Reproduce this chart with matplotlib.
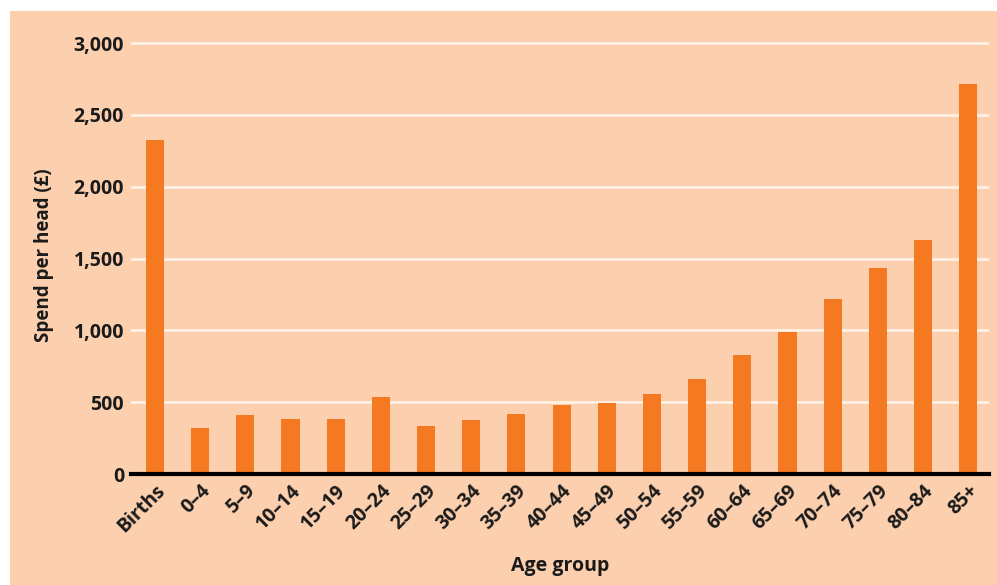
import matplotlib.pyplot as plt
from matplotlib.patches import Rectangle
from matplotlib.ticker import FuncFormatter

# Spend per head by age group
age_groups = ["Births", "0–4", "5–9", "10–14", "15–19", "20–24", "25–29", "30–34",
              "35–39", "40–44", "45–49", "50–54", "55–59", "60–64", "65–69",
              "70–74", "75–79", "80–84", "85+"]
spend = [2325, 320, 411, 383, 383, 536, 334, 376, 418, 480, 494, 557, 661,
         828, 988, 1218, 1434, 1629, 2714]
y_ticks = [0, 500, 1000, 1500, 2000, 2500, 3000]

bg = "#FCD0AE"
bar_col = "#F47920"
ink = "#1a1a1a"

plt.rcParams['font.family'] = ['Open Sans', 'DejaVu Sans']

fig = plt.figure(figsize=(9.97, 5.85), dpi=100)
# peach panel behind everything, with a thin white margin top and left
fig.patches.append(Rectangle((10 / 997, 0), 1, (585 - 11) / 585,
                             transform=fig.transFigure, facecolor=bg,
                             edgecolor="none", zorder=-10))

ax = fig.add_axes([131 / 997, 111 / 585, (989 - 131) / 997, (474 - 36) / 585])
ax.set_facecolor("none")
ax.set_zorder(1)

x = range(len(age_groups))
ax.bar(x, spend, width=0.4, color=bar_col, zorder=3)

ax.set_xlim(-0.53, 18.46)
ax.set_ylim(0, 3050)
ax.set_yticks(y_ticks)
ax.yaxis.set_major_formatter(FuncFormatter(lambda v, p: f"{int(v):,}"))
ax.grid(axis="y", color="#FFF1E6", linewidth=2, zorder=1)
ax.set_axisbelow(True)

for s in ["top", "right", "left"]:
    ax.spines[s].set_visible(False)
ax.spines["bottom"].set_linewidth(3)
ax.spines["bottom"].set_color("black")
ax.spines["bottom"].set_zorder(4)

ax.set_xticks(list(x))
ax.set_xticklabels(age_groups, rotation=45, ha="right", rotation_mode="anchor",
                   fontsize=14, fontweight="bold", color=ink)
ax.tick_params(axis="x", length=0, pad=5)
ax.tick_params(axis="y", length=0, pad=5, labelsize=14, labelcolor=ink)
for lbl in ax.get_yticklabels():
    lbl.set_fontweight("bold")

ax.set_ylabel("Spend per head (£)", fontsize=13.5, fontweight="bold",
              color=ink, labelpad=14)
ax.set_xlabel("Age group", fontsize=14, fontweight="bold",
              color=ink, labelpad=14)

fig.savefig("out.png", dpi=100)
